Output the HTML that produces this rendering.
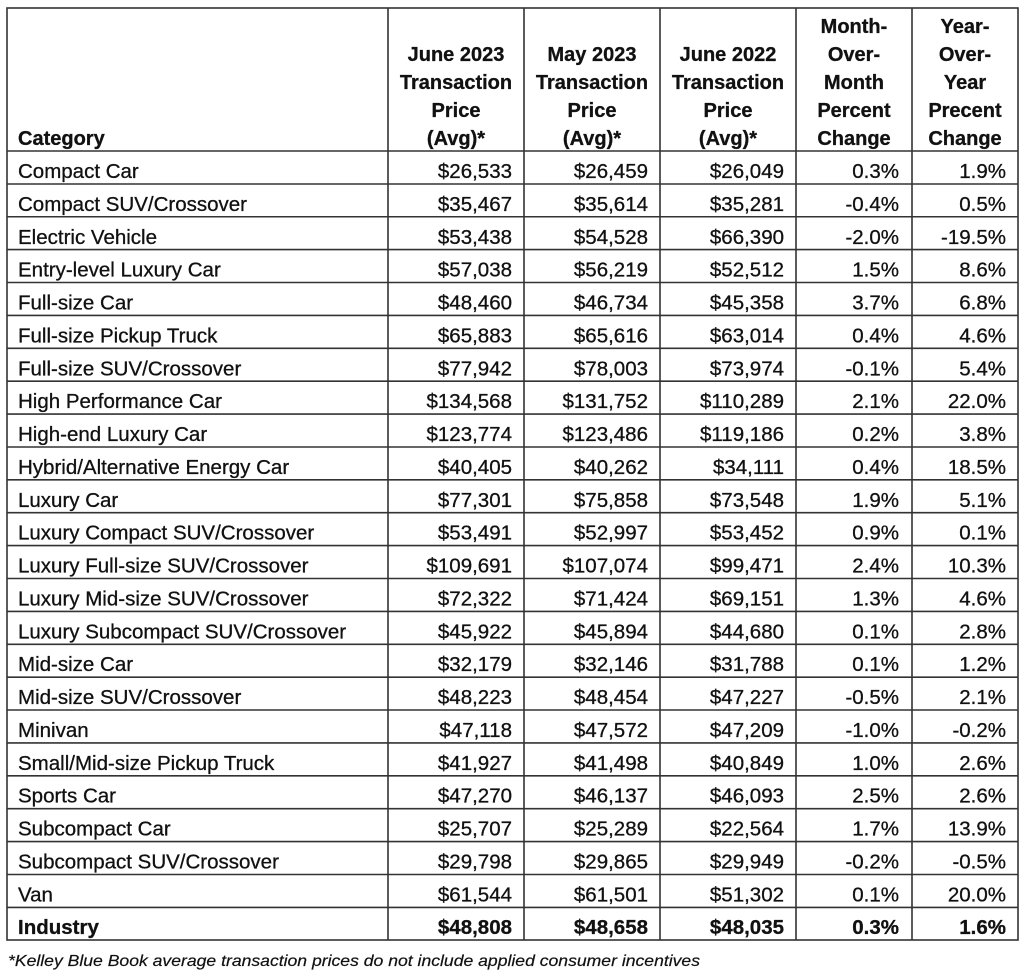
<!DOCTYPE html>
<html>
<head>
<meta charset="utf-8">
<style>
  html,body{margin:0;padding:0;background:#fff;}
  svg{display:block;}
  text{font-family:"Liberation Sans",Arial,sans-serif;fill:#111;stroke:#111;stroke-width:0.3px;}
  .d{font-size:20.5px;}
  .h{font-size:20px;font-weight:bold;}
  .b{font-weight:bold;}
  .r{text-anchor:end;}
  .c{text-anchor:middle;}
</style>
</head>
<body>
<svg width="1024" height="977" viewBox="0 0 1024 977" xmlns="http://www.w3.org/2000/svg">
  <rect x="0" y="0" width="1024" height="977" fill="#fff"/>
  <g stroke="#333" stroke-width="1.6" fill="none">
    <rect x="7" y="8" width="1011" height="932"/>
    <line x1="388" y1="8" x2="388" y2="940"/>
    <line x1="524" y1="8" x2="524" y2="940"/>
    <line x1="660" y1="8" x2="660" y2="940"/>
    <line x1="796" y1="8" x2="796" y2="940"/>
    <line x1="912" y1="8" x2="912" y2="940"/>
    <line x1="7" y1="151" x2="1018" y2="151"/>
    <line x1="7" y1="184" x2="1018" y2="184"/>
    <line x1="7" y1="216.75" x2="1018" y2="216.75"/>
    <line x1="7" y1="249.6" x2="1018" y2="249.6"/>
    <line x1="7" y1="282.5" x2="1018" y2="282.5"/>
    <line x1="7" y1="315.4" x2="1018" y2="315.4"/>
    <line x1="7" y1="348.3" x2="1018" y2="348.3"/>
    <line x1="7" y1="381.2" x2="1018" y2="381.2"/>
    <line x1="7" y1="414.1" x2="1018" y2="414.1"/>
    <line x1="7" y1="447" x2="1018" y2="447"/>
    <line x1="7" y1="479.8" x2="1018" y2="479.8"/>
    <line x1="7" y1="512.7" x2="1018" y2="512.7"/>
    <line x1="7" y1="545.6" x2="1018" y2="545.6"/>
    <line x1="7" y1="578.5" x2="1018" y2="578.5"/>
    <line x1="7" y1="611.4" x2="1018" y2="611.4"/>
    <line x1="7" y1="644.3" x2="1018" y2="644.3"/>
    <line x1="7" y1="677.2" x2="1018" y2="677.2"/>
    <line x1="7" y1="710" x2="1018" y2="710"/>
    <line x1="7" y1="742.9" x2="1018" y2="742.9"/>
    <line x1="7" y1="775.8" x2="1018" y2="775.8"/>
    <line x1="7" y1="808.7" x2="1018" y2="808.7"/>
    <line x1="7" y1="841.6" x2="1018" y2="841.6"/>
    <line x1="7" y1="874.5" x2="1018" y2="874.5"/>
    <line x1="7" y1="907.4" x2="1018" y2="907.4"/>
  </g>

  <g class="h">
    <text x="18" y="145">Category</text>
    <text class="c" x="456" y="61">June 2023</text>
    <text class="c" x="456" y="89">Transaction</text>
    <text class="c" x="456" y="117">Price</text>
    <text class="c" x="456" y="145">(Avg)*</text>
    <text class="c" x="592" y="61">May 2023</text>
    <text class="c" x="592" y="89">Transaction</text>
    <text class="c" x="592" y="117">Price</text>
    <text class="c" x="592" y="145">(Avg)*</text>
    <text class="c" x="728" y="61">June 2022</text>
    <text class="c" x="728" y="89">Transaction</text>
    <text class="c" x="728" y="117">Price</text>
    <text class="c" x="728" y="145">(Avg)*</text>
    <text class="c" x="854" y="33">Month-</text>
    <text class="c" x="854" y="61">Over-</text>
    <text class="c" x="854" y="89">Month</text>
    <text class="c" x="854" y="117">Percent</text>
    <text class="c" x="854" y="145">Change</text>
    <text class="c" x="965" y="33">Year-</text>
    <text class="c" x="965" y="61">Over-</text>
    <text class="c" x="965" y="89">Year</text>
    <text class="c" x="965" y="117">Precent</text>
    <text class="c" x="965" y="145">Change</text>
  </g>

  <g class="d">
    <g transform="translate(0,178)"><text x="18" y="0">Compact Car</text><text class="r" x="512" y="0">$26,533</text><text class="r" x="648" y="0">$26,459</text><text class="r" x="784" y="0">$26,049</text><text class="r" x="899" y="0">0.3%</text><text class="r" x="1006" y="0">1.9%</text></g>
    <g transform="translate(0,210.9)"><text x="18" y="0">Compact SUV/Crossover</text><text class="r" x="512" y="0">$35,467</text><text class="r" x="648" y="0">$35,614</text><text class="r" x="784" y="0">$35,281</text><text class="r" x="899" y="0">-0.4%</text><text class="r" x="1006" y="0">0.5%</text></g>
    <g transform="translate(0,243.75)"><text x="18" y="0">Electric Vehicle</text><text class="r" x="512" y="0">$53,438</text><text class="r" x="648" y="0">$54,528</text><text class="r" x="784" y="0">$66,390</text><text class="r" x="899" y="0">-2.0%</text><text class="r" x="1006" y="0">-19.5%</text></g>
    <g transform="translate(0,276.6)"><text x="18" y="0">Entry-level Luxury Car</text><text class="r" x="512" y="0">$57,038</text><text class="r" x="648" y="0">$56,219</text><text class="r" x="784" y="0">$52,512</text><text class="r" x="899" y="0">1.5%</text><text class="r" x="1006" y="0">8.6%</text></g>
    <g transform="translate(0,309.5)"><text x="18" y="0">Full-size Car</text><text class="r" x="512" y="0">$48,460</text><text class="r" x="648" y="0">$46,734</text><text class="r" x="784" y="0">$45,358</text><text class="r" x="899" y="0">3.7%</text><text class="r" x="1006" y="0">6.8%</text></g>
    <g transform="translate(0,342.4)"><text x="18" y="0">Full-size Pickup Truck</text><text class="r" x="512" y="0">$65,883</text><text class="r" x="648" y="0">$65,616</text><text class="r" x="784" y="0">$63,014</text><text class="r" x="899" y="0">0.4%</text><text class="r" x="1006" y="0">4.6%</text></g>
    <g transform="translate(0,375.25)"><text x="18" y="0">Full-size SUV/Crossover</text><text class="r" x="512" y="0">$77,942</text><text class="r" x="648" y="0">$78,003</text><text class="r" x="784" y="0">$73,974</text><text class="r" x="899" y="0">-0.1%</text><text class="r" x="1006" y="0">5.4%</text></g>
    <g transform="translate(0,408.1)"><text x="18" y="0">High Performance Car</text><text class="r" x="512" y="0">$134,568</text><text class="r" x="648" y="0">$131,752</text><text class="r" x="784" y="0">$110,289</text><text class="r" x="899" y="0">2.1%</text><text class="r" x="1006" y="0">22.0%</text></g>
    <g transform="translate(0,441)"><text x="18" y="0">High-end Luxury Car</text><text class="r" x="512" y="0">$123,774</text><text class="r" x="648" y="0">$123,486</text><text class="r" x="784" y="0">$119,186</text><text class="r" x="899" y="0">0.2%</text><text class="r" x="1006" y="0">3.8%</text></g>
    <g transform="translate(0,473.9)"><text x="18" y="0">Hybrid/Alternative Energy Car</text><text class="r" x="512" y="0">$40,405</text><text class="r" x="648" y="0">$40,262</text><text class="r" x="784" y="0">$34,111</text><text class="r" x="899" y="0">0.4%</text><text class="r" x="1006" y="0">18.5%</text></g>
    <g transform="translate(0,506.75)"><text x="18" y="0">Luxury Car</text><text class="r" x="512" y="0">$77,301</text><text class="r" x="648" y="0">$75,858</text><text class="r" x="784" y="0">$73,548</text><text class="r" x="899" y="0">1.9%</text><text class="r" x="1006" y="0">5.1%</text></g>
    <g transform="translate(0,539.6)"><text x="18" y="0">Luxury Compact SUV/Crossover</text><text class="r" x="512" y="0">$53,491</text><text class="r" x="648" y="0">$52,997</text><text class="r" x="784" y="0">$53,452</text><text class="r" x="899" y="0">0.9%</text><text class="r" x="1006" y="0">0.1%</text></g>
    <g transform="translate(0,572.5)"><text x="18" y="0">Luxury Full-size SUV/Crossover</text><text class="r" x="512" y="0">$109,691</text><text class="r" x="648" y="0">$107,074</text><text class="r" x="784" y="0">$99,471</text><text class="r" x="899" y="0">2.4%</text><text class="r" x="1006" y="0">10.3%</text></g>
    <g transform="translate(0,605.4)"><text x="18" y="0">Luxury Mid-size SUV/Crossover</text><text class="r" x="512" y="0">$72,322</text><text class="r" x="648" y="0">$71,424</text><text class="r" x="784" y="0">$69,151</text><text class="r" x="899" y="0">1.3%</text><text class="r" x="1006" y="0">4.6%</text></g>
    <g transform="translate(0,638.25)"><text x="18" y="0">Luxury Subcompact SUV/Crossover</text><text class="r" x="512" y="0">$45,922</text><text class="r" x="648" y="0">$45,894</text><text class="r" x="784" y="0">$44,680</text><text class="r" x="899" y="0">0.1%</text><text class="r" x="1006" y="0">2.8%</text></g>
    <g transform="translate(0,671.1)"><text x="18" y="0">Mid-size Car</text><text class="r" x="512" y="0">$32,179</text><text class="r" x="648" y="0">$32,146</text><text class="r" x="784" y="0">$31,788</text><text class="r" x="899" y="0">0.1%</text><text class="r" x="1006" y="0">1.2%</text></g>
    <g transform="translate(0,704)"><text x="18" y="0">Mid-size SUV/Crossover</text><text class="r" x="512" y="0">$48,223</text><text class="r" x="648" y="0">$48,454</text><text class="r" x="784" y="0">$47,227</text><text class="r" x="899" y="0">-0.5%</text><text class="r" x="1006" y="0">2.1%</text></g>
    <g transform="translate(0,736.9)"><text x="18" y="0">Minivan</text><text class="r" x="512" y="0">$47,118</text><text class="r" x="648" y="0">$47,572</text><text class="r" x="784" y="0">$47,209</text><text class="r" x="899" y="0">-1.0%</text><text class="r" x="1006" y="0">-0.2%</text></g>
    <g transform="translate(0,769.75)"><text x="18" y="0">Small/Mid-size Pickup Truck</text><text class="r" x="512" y="0">$41,927</text><text class="r" x="648" y="0">$41,498</text><text class="r" x="784" y="0">$40,849</text><text class="r" x="899" y="0">1.0%</text><text class="r" x="1006" y="0">2.6%</text></g>
    <g transform="translate(0,802.6)"><text x="18" y="0">Sports Car</text><text class="r" x="512" y="0">$47,270</text><text class="r" x="648" y="0">$46,137</text><text class="r" x="784" y="0">$46,093</text><text class="r" x="899" y="0">2.5%</text><text class="r" x="1006" y="0">2.6%</text></g>
    <g transform="translate(0,835.5)"><text x="18" y="0">Subcompact Car</text><text class="r" x="512" y="0">$25,707</text><text class="r" x="648" y="0">$25,289</text><text class="r" x="784" y="0">$22,564</text><text class="r" x="899" y="0">1.7%</text><text class="r" x="1006" y="0">13.9%</text></g>
    <g transform="translate(0,868.4)"><text x="18" y="0">Subcompact SUV/Crossover</text><text class="r" x="512" y="0">$29,798</text><text class="r" x="648" y="0">$29,865</text><text class="r" x="784" y="0">$29,949</text><text class="r" x="899" y="0">-0.2%</text><text class="r" x="1006" y="0">-0.5%</text></g>
    <g transform="translate(0,901.25)"><text x="18" y="0">Van</text><text class="r" x="512" y="0">$61,544</text><text class="r" x="648" y="0">$61,501</text><text class="r" x="784" y="0">$51,302</text><text class="r" x="899" y="0">0.1%</text><text class="r" x="1006" y="0">20.0%</text></g>
    <g transform="translate(0,934)" class="b"><text x="18" y="0">Industry</text><text class="r" x="512" y="0">$48,808</text><text class="r" x="648" y="0">$48,658</text><text class="r" x="784" y="0">$48,035</text><text class="r" x="899" y="0">0.3%</text><text class="r" x="1006" y="0">1.6%</text></g>
  </g>

  <text x="8" y="966" style="font-size:16px;font-style:italic;stroke-width:0.2px;" textLength="692" lengthAdjust="spacingAndGlyphs">*Kelley Blue Book average transaction prices do not include applied consumer incentives</text>
</svg>
</body>
</html>
